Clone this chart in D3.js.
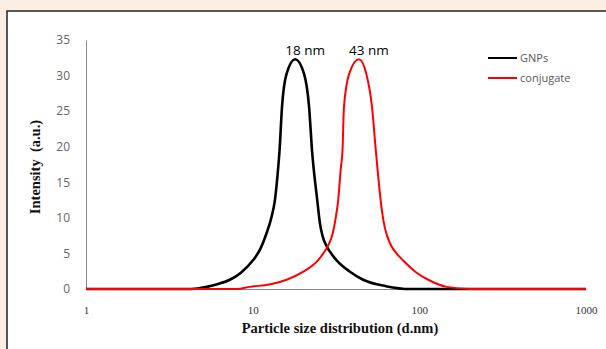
<!DOCTYPE html>
<html>
<head>
<meta charset="utf-8">
<script src="https://cdn.jsdelivr.net/npm/d3@7"></script>
<style>
  html, body { margin: 0; padding: 0; background: #fbede3; }
  svg { display: block; }
</style>
</head>
<body>
<div id="chart"></div>
<script>
// particle size (d.nm) and intensity (a.u.)
const gnpSize = [1, 4.3, 5.3, 6.2, 7.3, 8.5, 10.1, 11.1, 12.1, 13.0, 13.6, 14.1, 14.5, 15.0, 16.0, 18, 20.3, 21.8, 22.7, 24.4, 25.3, 26.3, 27.8, 29.8, 32, 38, 46, 63, 88, 1000]
const gnpIntensity = [0, 0, 0.3, 0.7, 1.3, 2.3, 4.1, 5.6, 7.8, 10.2, 12.5, 16.0, 19.5, 25.6, 30.3, 32.3, 30.3, 25.6, 19.5, 12.5, 9.3, 7.4, 6.0, 4.9, 4.0, 2.5, 1.3, 0.4, 0, 0]

const conjSize = [1, 8, 9.6, 13, 16, 20, 24.8, 26.5, 28.5, 30.2, 31.5, 32.6, 33.8, 34.6, 35.3, 38, 43.4, 48, 52, 54.8, 58.6, 61, 64, 68, 73, 80, 95, 113, 146, 200, 1000]
const conjIntensity = [0, 0, 0.3, 0.7, 1.3, 2.4, 4.1, 5.0, 6.2, 7.8, 10.0, 12.5, 17.0, 19.5, 25.6, 30.3, 32.3, 30.3, 25.6, 19.5, 12.5, 9.5, 7.5, 6.0, 5.0, 4.0, 2.4, 1.3, 0.3, 0, 0]

const yTicks = [0, 5, 10, 15, 20, 25, 30, 35]
const xTicks = [1, 10, 100, 1000]
const peakLabels = [{ size: 18, value: 32.3, text: '18 nm' }, { size: 43.4, value: 32.3, text: '43 nm' }]
const seriesNames = ['GNPs', 'conjugate']

const width = 606
const height = 349

const svg = d3.select('#chart')
  .append('svg')
  .attr('width', width)
  .attr('height', height)

// white chart box with a dark frame on the top and left
svg.append('rect')
  .attr('x', 7).attr('y', 11)
  .attr('width', width).attr('height', height)
  .attr('fill', '#fff')
  .attr('stroke', '#222')
  .attr('stroke-width', 1.5)

const x = d3.scaleLog().domain([1, 1000]).range([86, 586])
const y = d3.scaleLinear().domain([0, 35]).range([289, 40])

// axes
const yAxis = svg.append('g')
  .attr('transform', `translate(${x(1)},0)`)
  .call(d3.axisLeft(y).tickValues(yTicks).tickSize(0).tickPadding(16))
yAxis.select('.domain').attr('stroke', '#868686')
yAxis.selectAll('text')
  .attr('font-family', 'Open Sans, sans-serif')
  .attr('font-size', 12)
  .attr('fill', '#666')

const xAxis = svg.append('g')
  .attr('transform', `translate(0,${y(0)})`)
  .call(d3.axisBottom(x).tickValues(xTicks).tickFormat(d3.format('d')).tickSize(0).tickPadding(17))
xAxis.select('.domain').attr('stroke', '#868686')
xAxis.selectAll('text')
  .attr('font-family', 'Liberation Serif, serif')
  .attr('font-size', 11)
  .attr('fill', '#333')

// curves
const line = d3.line()
  .x(d => x(d[0]))
  .y(d => y(d[1]))
  .curve(d3.curveMonotoneX)

const series = [
  { name: seriesNames[0], color: '#000', width: 2.6, data: d3.zip(gnpSize, gnpIntensity) },
  { name: seriesNames[1], color: '#f00', width: 2, data: d3.zip(conjSize, conjIntensity) }
]

svg.selectAll('.series')
  .data(series)
  .join('path')
  .attr('class', 'series')
  .attr('d', d => line(d.data))
  .attr('fill', 'none')
  .attr('stroke', d => d.color)
  .attr('stroke-width', d => d.width)

// peak labels
svg.selectAll('.peak')
  .data(peakLabels)
  .join('text')
  .attr('class', 'peak')
  .attr('x', d => x(d.size) + 10)
  .attr('y', d => y(d.value) - 4)
  .attr('text-anchor', 'middle')
  .attr('font-family', 'Open Sans, sans-serif')
  .attr('font-size', 13.5)
  .attr('fill', '#000')
  .text(d => d.text)

// legend
const legend = svg.selectAll('.legend')
  .data(series)
  .join('g')
  .attr('class', 'legend')
  .attr('transform', (d, i) => `translate(488,${58 + i * 20})`)
legend.append('line')
  .attr('x1', 0).attr('x2', 29)
  .attr('stroke', d => d.color)
  .attr('stroke-width', 2)
legend.append('text')
  .attr('x', 32).attr('y', 4)
  .attr('font-family', 'Open Sans, sans-serif')
  .attr('font-size', 11)
  .attr('fill', '#595959')
  .text(d => d.name)

// axis titles
svg.append('text')
  .attr('x', 340).attr('y', 333)
  .attr('text-anchor', 'middle')
  .attr('font-family', 'Liberation Serif, serif')
  .attr('font-weight', 'bold')
  .attr('font-size', 14.5)
  .attr('fill', '#111')
  .text('Particle size distribution (d.nm)')

svg.append('text')
  .attr('transform', 'translate(40,167) rotate(-90)')
  .attr('text-anchor', 'middle')
  .attr('font-family', 'Liberation Serif, serif')
  .attr('font-weight', 'bold')
  .attr('font-size', 14.5)
  .attr('fill', '#111')
  .attr('xml:space', 'preserve')
  .text('Intensity  (a.u.)')
</script>
</body>
</html>
